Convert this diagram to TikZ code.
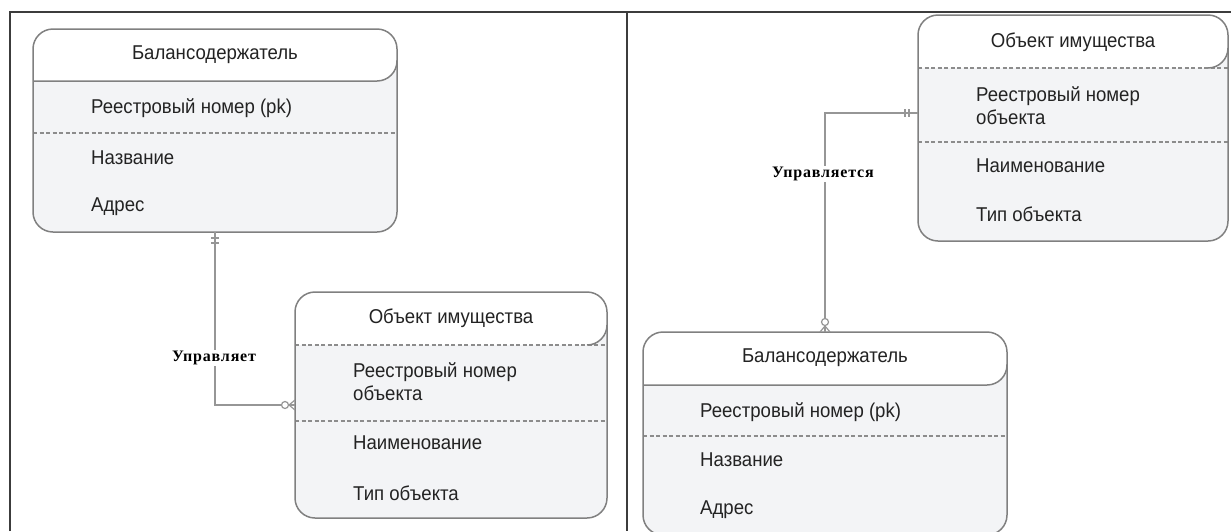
\documentclass[tikz,border=0pt]{standalone}
\usepackage{fontspec}
\setmainfont{Liberation Sans}
\newfontfamily\entfamily{Liberation Sans}[FakeStretch=0.93]
\newfontfamily\relfamily{Liberation Serif}[LetterSpace=5]
\newcommand{\entfont}{\entfamily\fontsize{20}{23}\selectfont}
\newcommand{\relfont}{\relfamily\bfseries\fontsize{16}{18}\selectfont}
\usetikzlibrary{calc}

\definecolor{boxgray}{RGB}{128,128,128}
\definecolor{rulegray}{RGB}{140,140,140}
\definecolor{linkgray}{RGB}{150,150,150}
\definecolor{framegray}{RGB}{60,60,60}
\definecolor{bodyfill}{RGB}{243,244,246}
\definecolor{txt}{RGB}{35,35,35}

\tikzset{
  outline/.style={draw=boxgray, line width=1.5pt},
  rule/.style={draw=rulegray, line width=1.4pt, dash pattern=on 4pt off 2.5pt},
  link/.style={draw=linkgray, line width=1.2pt},
  frame/.style={draw=framegray, line width=1.5pt},
  boxnode/.style={inner sep=0pt, outer sep=0pt, draw=none},
  title/.style={font=\entfont, text=txt, inner sep=0pt},
  attr/.style={font=\entfont, text=txt, inner sep=0pt, anchor=west, align=left},
  rel/.style={font=\relfont, text=black, fill=white, inner sep=1.5pt},
}

% entity body: name, left, top, width, height, header height
\newcommand{\entitybody}[6]{%
  \node[boxnode, minimum width=#4pt, minimum height=#5pt, anchor=north west] (#1) at (#2,#3) {};
  \fill[bodyfill, rounded corners=20pt] (#1.north west) rectangle (#1.south east);
  \fill[white, rounded corners=20pt] (#2,#3) rectangle ({#2+#4},{#3+#6});
  \fill[white] (#2,{#3+#6-20}) rectangle ({#2+20},{#3+#6});
}
% header closed by a solid rule
\newcommand{\solidhead}[4]{% left, top, width, header height
  \draw[outline, rounded corners=20pt] (#1,{#2+#4}) -- ({#1+#3},{#2+#4}) -- ({#1+#3},{#2+#4-21});
}
% header closed by a dashed rule
\newcommand{\dashedhead}[4]{%
  \draw[rule] (#1,{#2+#4}) -- ({#1+#3},{#2+#4});
  \draw[outline] ({#1+#3-20},{#2+#4}) .. controls ({#1+#3-9},{#2+#4}) and ({#1+#3},{#2+#4-9}) .. ({#1+#3},{#2+#4-20});
}
\newcommand{\entityoutline}[1]{%
  \draw[outline, rounded corners=20pt] (#1.north west) rectangle (#1.south east);
}

\begin{document}
\begin{tikzpicture}[x=1pt, y=-1pt]
\useasboundingbox (0,0) rectangle (1231,531);
\fill[white] (0,0) rectangle (1231,531);

% ---------- left panel ----------
\entitybody{balL}{33}{29}{364}{203}{52}
\solidhead{33}{29}{364}{52}
\draw[rule] (33,133) -- (397,133);
\entityoutline{balL}
\node[title] (balL-t) at (215,55) {Балансодержатель};
\node[attr] (balL-a1) at (91,108) {Реестровый номер (pk)};
\node[attr] (balL-a2) at (91,158) {Название};
\node[attr] (balL-a3) at (91,207) {Адрес};

\entitybody{objL}{295}{292}{312}{226}{53}
\dashedhead{295}{292}{312}{53}
\draw[rule] (295,421) -- (607,421);
\entityoutline{objL}
\node[title] (objL-t) at (451,318) {Объект имущества};
\node[attr] (objL-a1) at (353,381.5) {Реестровый номер\\[0pt]объекта};
\node[attr] (objL-a2) at (353,443) {Наименование};
\node[attr] (objL-a3) at (353,493) {Тип объекта};

% relationship: one to zero-or-many
\draw[link] (balL.south) |- (objL.west);
\draw[link] ($(balL.south)+(-4,6)$) -- ($(balL.south)+(4,6)$);
\draw[link] ($(balL.south)+(-4,11)$) -- ($(balL.south)+(4,11)$);
\draw[link] ($(objL.west)+(-6,0)$) -- ($(objL.west)+(0,-5)$);
\draw[link] ($(objL.west)+(-6,0)$) -- ($(objL.west)+(0,5)$);
\draw[link, fill=white] ($(objL.west)+(-10,0)$) circle (3.5pt);
\node[rel] (relL) at (214,358) {Управляет};

% ---------- right panel ----------
\entitybody{objR}{918}{15}{310}{226}{53}
\dashedhead{918}{15}{310}{53}
\draw[rule] (918,142) -- (1228,142);
\entityoutline{objR}
\node[title] (objR-t) at (1073,42) {Объект имущества};
\node[attr] (objR-a1) at (976,106) {Реестровый номер\\[0pt]объекта};
\node[attr] (objR-a2) at (976,166) {Наименование};
\node[attr] (objR-a3) at (976,214) {Тип объекта};

\entitybody{balR}{643}{332}{364}{203}{53}
\solidhead{643}{332}{364}{53}
\draw[rule] (643,436) -- (1007,436);
\entityoutline{balR}
\node[title] (balR-t) at (825,358) {Балансодержатель};
\node[attr] (balR-a1) at (700,412) {Реестровый номер (pk)};
\node[attr] (balR-a2) at (700,460) {Название};
\node[attr] (balR-a3) at (700,510) {Адрес};

\coordinate (objR-link) at ($(objR.west)+(0,-15)$);
\draw[link] (objR-link) -| (balR.north);
\draw[link] ($(objR-link)+(-9,-4)$) -- ($(objR-link)+(-9,4)$);
\draw[link] ($(objR-link)+(-13,-4)$) -- ($(objR-link)+(-13,4)$);
\draw[link] ($(balR.north)+(0,-6)$) -- ($(balR.north)+(-5,0)$);
\draw[link] ($(balR.north)+(0,-6)$) -- ($(balR.north)+(5,0)$);
\draw[link, fill=white] ($(balR.north)+(0,-10)$) circle (3.5pt);
\node[rel] (relR) at (823,174) {Управляется};

% ---------- frame ----------
\draw[frame] (10,531) -- (10,12) -- (1231,12);
\draw[frame] (627,12) -- (627,531);
\end{tikzpicture}
\end{document}
